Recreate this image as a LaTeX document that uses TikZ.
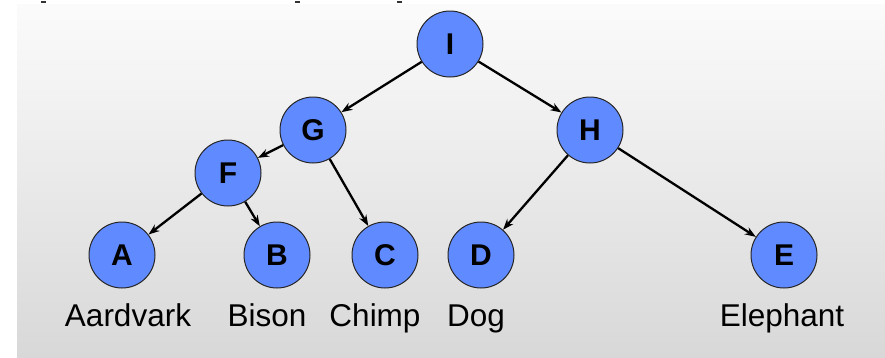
\documentclass[tikz,border=0pt]{standalone}
\usepackage{fontspec}
\setmainfont{Liberation Sans}
\usetikzlibrary{arrows.meta}
\definecolor{nodeblue}{RGB}{96,138,255}
\definecolor{bgtop}{RGB}{251,251,251}
\definecolor{bgbot}{RGB}{216,216,216}
\tikzset{
  treenode/.style={circle, draw=black!85, line width=1pt, fill=nodeblue, minimum size=66pt, inner sep=0pt, font=\fontsize{30}{34}\selectfont\bfseries},
  animal/.style={font=\fontsize{31.5}{36}\selectfont, inner sep=0pt, anchor=base},
  edge/.style={line width=2.3pt, -{Stealth[length=11pt,width=8pt]}}
}
\begin{document}
\begin{tikzpicture}[x=1pt,y=-1pt]
\useasboundingbox (0,0) rectangle (885,357);
\fill[white] (0,0) rectangle (885,357);
\shade[top color=bgtop, bottom color=bgbot] (17,4) rectangle (885,357);
% fragments of text cut off at the top
\fill[black!80] (41,1) rectangle (46,3);
\fill[black!80] (295,1) rectangle (300,3);
\fill[black!80] (397,1) rectangle (402,3);
% nodes
\node[treenode] (I) at (450,44) {I};
\node[treenode] (G) at (313,130) {G};
\node[treenode] (H) at (590,130) {H};
\node[treenode] (F) at (228,173) {F};
\node[treenode] (A) at (122,255) {A};
\node[treenode] (B) at (277,255) {B};
\node[treenode] (C) at (385,255) {C};
\node[treenode] (D) at (481,255) {D};
\node[treenode] (E) at (784,255) {E};
% labels
\node[animal] (la) at (128,326) {Aardvark};
\node[animal] (lb) at (267,326) {Bison};
\node[animal] (lc) at (375,326) {Chimp};
\node[animal] (ld) at (476,326) {Dog};
\node[animal] (le) at (782,326) {Elephant};
% edges
\draw[edge] (I) -- (G);
\draw[edge] (I) -- (H);
\draw[edge] (G) -- (F);
\draw[edge] (G) -- (C);
\draw[edge] (F) -- (A);
\draw[edge] (F) -- (B);
\draw[edge] (H) -- (D);
\draw[edge] (H) -- (E);
\end{tikzpicture}
\end{document}
